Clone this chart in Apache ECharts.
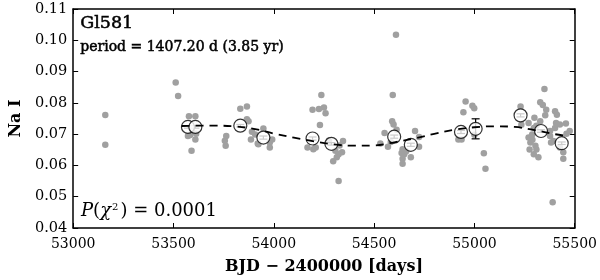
<!DOCTYPE html>
<html><head><meta charset="utf-8">
<script src="https://cdn.jsdelivr.net/npm/echarts@6/dist/echarts.min.js"></script>
<style>html,body{margin:0;padding:0;background:#fff}#c{width:600px;height:280px}</style>
</head><body><div id="c"></div>
<script>
// Individual measurements (gray)
const obsDays = [
 53160,53160,
 53511,53523,53577,53609,53583,53609,53590,53572,53593,53613,
 53763,53760,53756,
 53833,53866,53866,53874,53891,53886,
 53948,53923,53980,53980,53992,53920,53907,
 54193,54225,54250,54258,54237,54230,54168,54197,54209,
 54275,54345,54307,54296,54323,54340,54323,54314,54328,
 54609,54593,54590,54597,54552,54531,54569,54583,54612,
 54704,54724,54724,54642,54650,54642,54642,54683,54660,54637,
 54956,54945,54920,54936,
 54990,54999,55047,55055,55000,
 55230,55234,
 55349,55328,55341,55358,55353,55328,55296,55288,55279,55304,55296,55270,55309,55319,
 55377,55377,55394,55402,55402,55411,55426,55456,55459,55443,55443,55426,55475,55390,55270,
 55289,55309,55275,55299,55407,55382
];
const obsNaI = [
 0.0761,0.0666,
 0.0865,0.0822,0.0757,0.0757,0.0697,0.0683,0.0647,0.0694,0.0708,0.0701,
 0.0694,0.0663,0.0679,
 0.0781,0.0788,0.0748,0.0741,0.0708,0.0683,
 0.0718,0.0668,0.0673,0.0657,0.0683,0.0670,0.0699,
 0.0778,0.0780,0.0785,0.0767,0.0825,0.0729,0.0657,0.0652,0.0657,
 0.0680,0.0678,0.0647,0.0613,0.0636,0.0642,0.0550,0.0626,0.0664,
 0.1018,0.0825,0.0741,0.0731,0.0704,0.0670,0.0660,0.0675,0.0714,
 0.0710,0.0691,0.0660,0.0652,0.0636,0.0621,0.0605,0.0626,0.0645,0.0640,
 0.0804,0.0770,0.0683,0.0683,
 0.0791,0.0783,0.0639,0.0589,0.0698,
 0.0788,0.0730,
 0.0844,0.0802,0.0793,0.0778,0.0760,0.0741,0.0720,0.0699,0.0673,0.0663,0.0636,0.0689,0.0651,0.0626,
 0.0710,0.0694,0.0678,0.0720,0.0773,0.0762,0.0731,0.0734,0.0701,0.0642,0.0621,0.0657,0.0710,0.0482,0.0736,
 0.0682,0.0727,0.0651,0.0752,0.0736,0.0673
];
// Binned averages (open circles)
const binDays = [53572,53609,53833,53948,54193,54287,54600,54683,54933,55006,55230,55332,55435];
const binNaI  = [0.0723,0.0723,0.0727,0.0689,0.0686,0.0669,0.0692,0.0666,0.0707,0.0717,0.0760,0.0710,0.0671];
const binErr  = [0.0004,0.0004,0.0004,0.0005,0.0005,0.0004,0.0005,0.0005,0.0005,0.0032,0.0005,0.0004,0.0004];
// Fitted curve (dashed)
const modelDays = [53540,53620,53700,53800,53900,54000,54100,54200,54300,54400,54500,54600,54700,54800,54900,55000,55100,55200,55300,55400,55450];
const modelNaI  = [0.0726,0.0727,0.0727,0.0725,0.0717,0.0702,0.0689,0.0677,0.0667,0.0663,0.0664,0.0674,0.0686,0.0701,0.0714,0.0722,0.0725,0.0723,0.0713,0.0700,0.0695];
const xTicks = [53000,53500,54000,54500,55000,55500];
const yTicks = [0.04,0.05,0.06,0.07,0.08,0.09,0.10,0.11];

const FONT = 'DejaVu Serif';
const chart = echarts.init(document.getElementById('c'), null, {renderer:'canvas'});
const axisBase = {
  axisLine:{show:true,onZero:false,lineStyle:{color:'#000',width:1.5}},
  axisTick:{show:true,inside:true,length:5,lineStyle:{color:'#000',width:1}},
  splitLine:{show:false}
};
const boldish = {stroke:'#000',lineWidth:0.5};
chart.setOption({
  animation:false,
  backgroundColor:'#fff',
  grid:{left:65,right:25,top:9,bottom:48},
  xAxis:[
    Object.assign({type:'value',min:xTicks[0],max:xTicks[xTicks.length-1],interval:500,position:'bottom',
      name:'BJD − 2400000 [days]',nameLocation:'middle',nameGap:31,
      nameTextStyle:{fontFamily:FONT,fontSize:16,fontWeight:'bold',color:'#000'},
      axisLabel:{fontFamily:FONT,fontSize:14,color:'#000',margin:9,formatter:v=>String(v)}},axisBase),
    Object.assign({type:'value',min:xTicks[0],max:xTicks[xTicks.length-1],interval:500,position:'top',axisLabel:{show:false}},axisBase)
  ],
  yAxis:[
    Object.assign({type:'value',min:yTicks[0],max:yTicks[yTicks.length-1],interval:0.01,position:'left',
      name:'Na I',nameLocation:'middle',nameGap:47,nameRotate:90,
      nameTextStyle:{fontFamily:FONT,fontSize:16,fontWeight:'bold',color:'#000'},
      axisLabel:{fontFamily:FONT,fontSize:14.5,color:'#000',margin:6,formatter:v=>v.toFixed(2)}},axisBase),
    Object.assign({type:'value',min:yTicks[0],max:yTicks[yTicks.length-1],interval:0.01,position:'right',axisLabel:{show:false}},axisBase)
  ],
  graphic:[
    {type:'text',left:80,top:14,style:Object.assign({text:'Gl581',fontFamily:FONT,fontSize:17.5,fill:'#000'},boldish)},
    {type:'text',left:80,top:40,style:Object.assign({text:'period = 1407.20 d (3.85 yr)',fontFamily:FONT,fontSize:14,fill:'#000'},boldish)},
    {type:'text',left:81,top:202,style:{
      text:'{i|P}{n|(}{i|χ}{s|2}{n|) = 0.0001}',
      rich:{
        i:{fontFamily:FONT,fontSize:18,fontStyle:'italic',fill:'#000'},
        n:{fontFamily:FONT,fontSize:18,fill:'#000'},
        s:{fontFamily:FONT,fontSize:10,fill:'#000',verticalAlign:'top',padding:[0,2,9,1]}
      }}}
  ],
  series:[
    {type:'scatter',z:2,symbol:'circle',symbolSize:6.5,itemStyle:{color:'#a0a0a0',opacity:1},
     data:obsDays.map((d,i)=>[d,obsNaI[i]])},
    {type:'custom',z:3,
     data:binDays.map((d,i)=>[d,binNaI[i]-binErr[i],binNaI[i]+binErr[i]]),
     renderItem:function(params,api){
       const lo=api.coord([api.value(0),api.value(1)]);
       const hi=api.coord([api.value(0),api.value(2)]);
       const w=4;
       const st={stroke:'#000',lineWidth:1.2};
       return {type:'group',children:[
         {type:'line',shape:{x1:lo[0],y1:lo[1],x2:hi[0],y2:hi[1]},style:st},
         {type:'line',shape:{x1:lo[0]-w,y1:lo[1],x2:lo[0]+w,y2:lo[1]},style:st},
         {type:'line',shape:{x1:hi[0]-w,y1:hi[1],x2:hi[0]+w,y2:hi[1]},style:st}
       ]};
     }},
    {type:'scatter',z:4,symbol:'circle',symbolSize:13,itemStyle:{color:'#fff',borderColor:'#000',borderWidth:1.2},
     data:binDays.map((d,i)=>[d,binNaI[i]])},
    {type:'line',z:5,smooth:0.4,symbol:'none',lineStyle:{color:'#000',width:1.8,type:[8,6]},
     data:modelDays.map((d,i)=>[d,modelNaI[i]])}
  ]
});
</script></body></html>
